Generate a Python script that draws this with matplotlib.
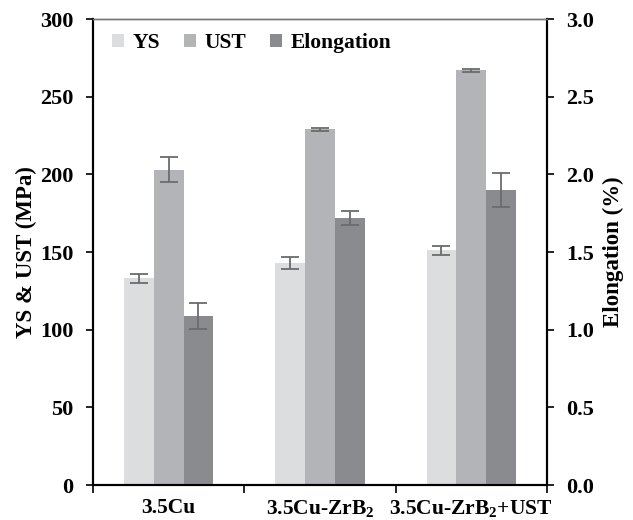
import numpy as np
import matplotlib
matplotlib.use("Agg")
from matplotlib import pyplot as plt

categories = ["3.5Cu", "3.5Cu-ZrB$_2$", "3.5Cu-ZrB$_2$+UST"]
ys = [133, 143, 151]
ys_err = [3, 4, 3]
ust = [203, 229, 267]
ust_err = [8, 1, 1]
elong = [1.09, 1.72, 1.90]
elong_err = [0.085, 0.045, 0.11]

plt.rcParams['font.family'] = ['Liberation Serif', 'DejaVu Serif']
plt.rcParams['font.weight'] = 'bold'
plt.rcParams['mathtext.fontset'] = 'custom'
plt.rcParams['mathtext.rm'] = 'Liberation Serif:bold'
plt.rcParams['mathtext.it'] = 'Liberation Serif:bold'

fig = plt.figure(figsize=(6.33, 5.2), dpi=100)
ax = fig.add_axes([0.147, 0.0673, 0.717, 0.896])
ax2 = ax.twinx()

x = np.arange(len(categories))
w = 0.197
ekw = dict(ecolor='#6b6b6b', elinewidth=1.3, capsize=6.5, capthick=1.3)
ax.bar(x - w, ys, w, yerr=ys_err, color='#dcdddf', label='YS', error_kw=ekw)
ax.bar(x, ust, w, yerr=ust_err, color='#b3b4b7', label='UST', error_kw=ekw)
ax2.bar(x + w, elong, w, yerr=elong_err, color='#8a8b8e', label='Elongation', error_kw=ekw)

ax.set_xlim(-0.5, 2.5)
ax.set_ylim(0, 300)
ax2.set_ylim(0, 3.0)
ax.set_yticks(np.arange(0, 301, 50))
ax2.set_yticks(np.arange(0, 3.01, 0.5))
ax2.set_yticklabels([f"{v:.1f}" for v in np.arange(0, 3.01, 0.5)])

# category boundaries get the ticks, names sit in between
ax.set_xticks([-0.5, 0.5, 1.5, 2.5], minor=False)
ax.set_xticklabels([])
ax.set_xticks(x, minor=True)
ax.set_xticklabels(categories, minor=True)
ax.tick_params(axis='x', which='minor', length=0, labelsize=15.5, pad=9)
ax.tick_params(axis='x', which='major', length=6, width=1.2, direction='out')
ax.tick_params(axis='y', length=5, width=1.2, labelsize=16, pad=9)
ax2.tick_params(axis='y', length=5, width=1.2, labelsize=16, pad=9)

ax.set_ylabel('YS & UST (MPa)', fontsize=16.5, fontweight='bold', labelpad=2)
ax2.set_ylabel('Elongation (%)', fontsize=16.5, fontweight='bold', labelpad=6)

for a in (ax, ax2):
    a.spines['top'].set_color('#777777')
    a.spines['top'].set_linewidth(1.0)
    a.spines['left'].set_linewidth(1.5)
    a.spines['right'].set_linewidth(1.5)
    a.spines['bottom'].set_linewidth(1.5)

h1, l1 = ax.get_legend_handles_labels()
h2, l2 = ax2.get_legend_handles_labels()
ax2.legend(h1 + h2, l1 + l2, loc='upper left', ncol=3, frameon=False,
           prop={'weight': 'bold', 'size': 15.5}, handlelength=0.55, handleheight=0.55,
           handletextpad=0.4, columnspacing=1.1, bbox_to_anchor=(0.0, 1.012))

fig.savefig('out.png', dpi=100)
